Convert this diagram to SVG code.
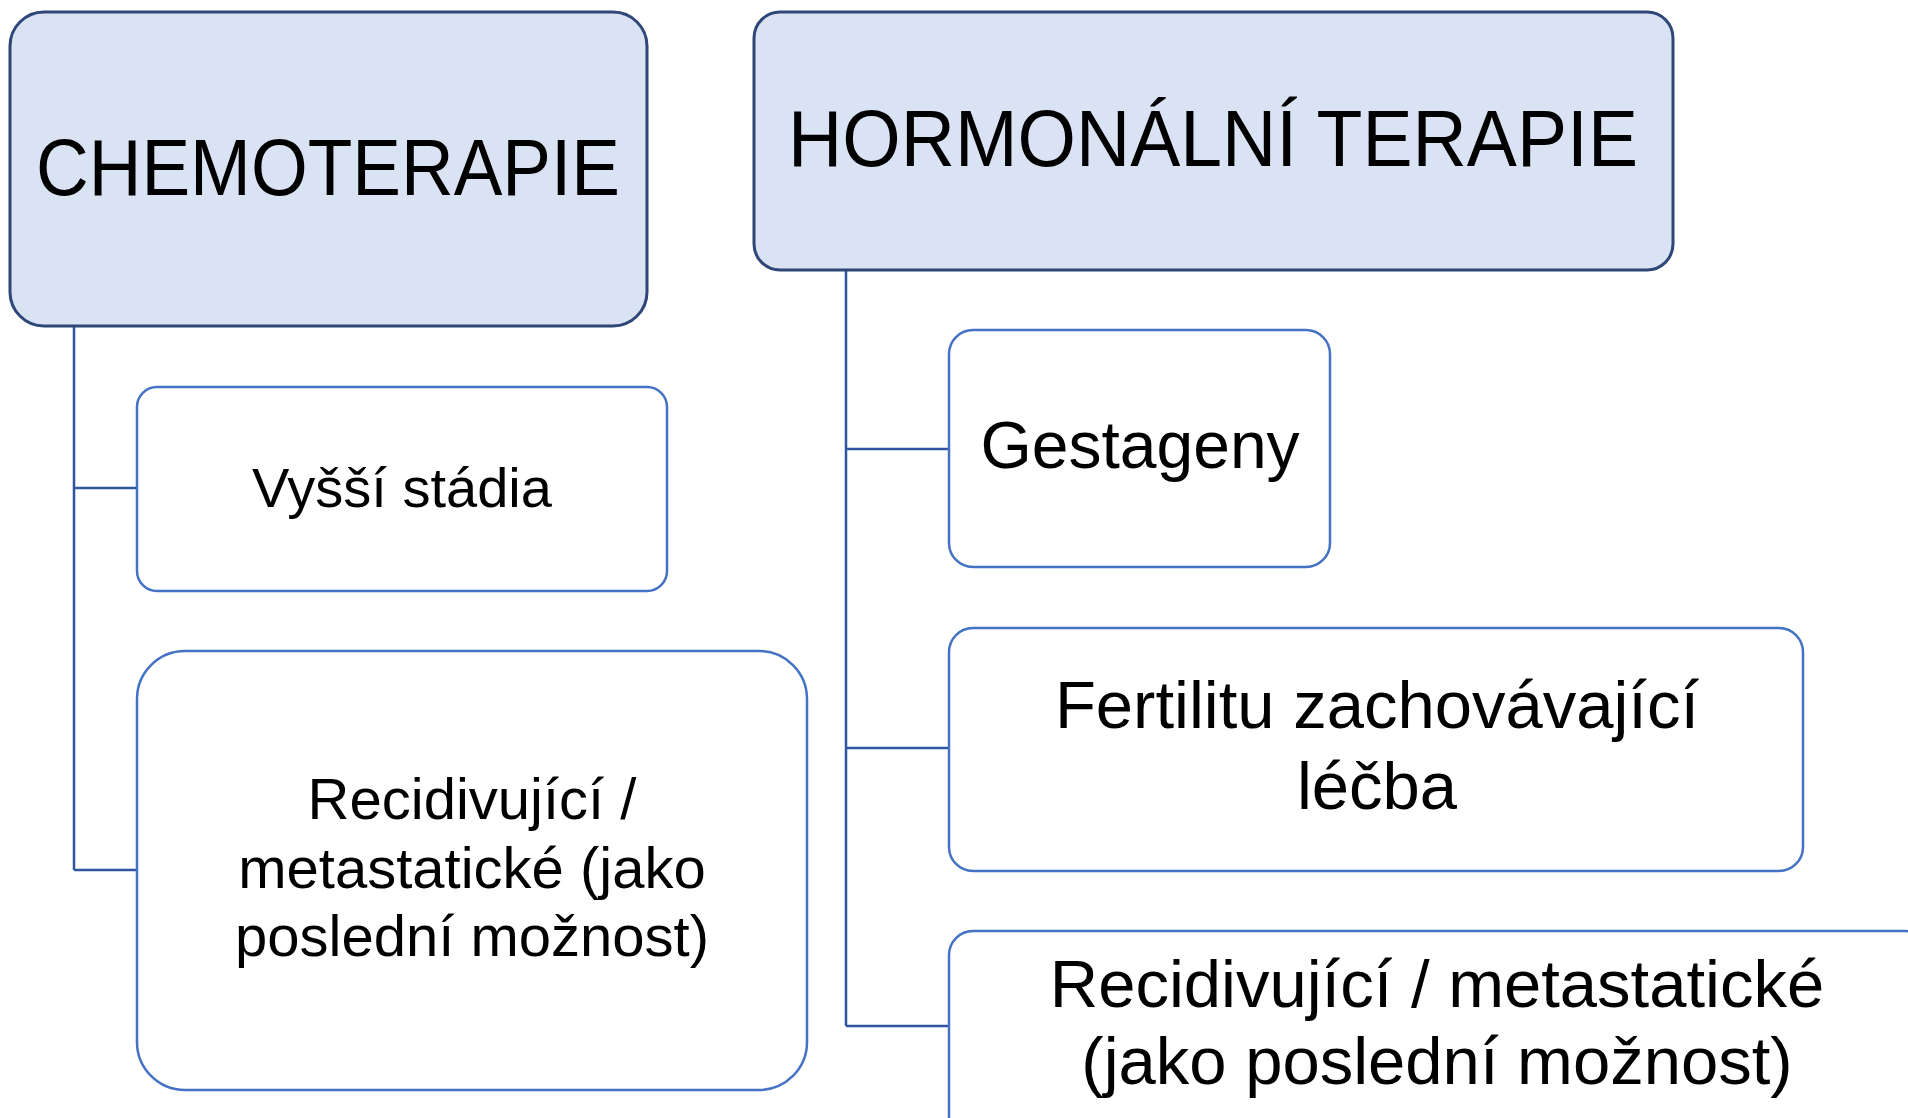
<svg xmlns="http://www.w3.org/2000/svg" width="1908" height="1118" viewBox="0 0 1908 1118">
<style>
.top{fill:#DAE3F3;stroke:#2F4678;stroke-width:3}
.child{fill:#FFFFFF;stroke:#4472C4;stroke-width:2.5}
.conn{fill:none;stroke:#2F55A0;stroke-width:2.5}
text{font-family:"Liberation Sans",Arial,sans-serif;fill:#000;text-anchor:middle}
.h{font-size:80px}
.m{font-size:58px}
.s{font-size:56px}
.l{font-size:66px}
.xl{font-size:67px}
</style>
<rect width="1908" height="1118" fill="#FFFFFF"/>
<g id="connectors">
<path class="conn" d="M74 326V870M74 488H137M74 870H137"/>
<path class="conn" d="M846 270V1026M846 449H949M846 748H949M846 1026H949"/>
</g>
<g id="chemoterapie">
<rect class="top" x="10" y="12" width="637" height="314" rx="34"/>
<text class="h" x="328" y="195" textLength="584" lengthAdjust="spacingAndGlyphs">CHEMOTERAPIE</text>
</g>
<g id="hormonalni">
<rect class="top" x="754" y="12" width="919" height="258" rx="26"/>
<text class="h" x="1213" y="166" textLength="850" lengthAdjust="spacingAndGlyphs">HORMONÁLNÍ TERAPIE</text>
</g>
<g id="vyssi-stadia">
<rect class="child" x="137" y="387" width="530" height="204" rx="20"/>
<text class="s" x="402" y="507">Vyšší stádia</text>
</g>
<g id="recidivujici-chemo">
<rect class="child" x="137" y="651" width="670" height="439" rx="48"/>
<text class="m" x="472" y="819">Recidivující /</text>
<text class="m" x="472" y="888">metastatické (jako</text>
<text class="m" x="472" y="956">poslední možnost)</text>
</g>
<g id="gestageny">
<rect class="child" x="949" y="330" width="381" height="237" rx="24"/>
<text class="l" x="1140" y="468">Gestageny</text>
</g>
<g id="fertilitu">
<rect class="child" x="949" y="628" width="854" height="243" rx="24"/>
<text class="xl" x="1377" y="728">Fertilitu zachovávající</text>
<text class="xl" x="1377" y="809">léčba</text>
</g>
<g id="recidivujici-hormon">
<rect class="child" x="949" y="931" width="980" height="260" rx="24"/>
<text class="xl" x="1437" y="1007">Recidivující / metastatické</text>
<text class="xl" x="1437" y="1084">(jako poslední možnost)</text>
</g>
</svg>
